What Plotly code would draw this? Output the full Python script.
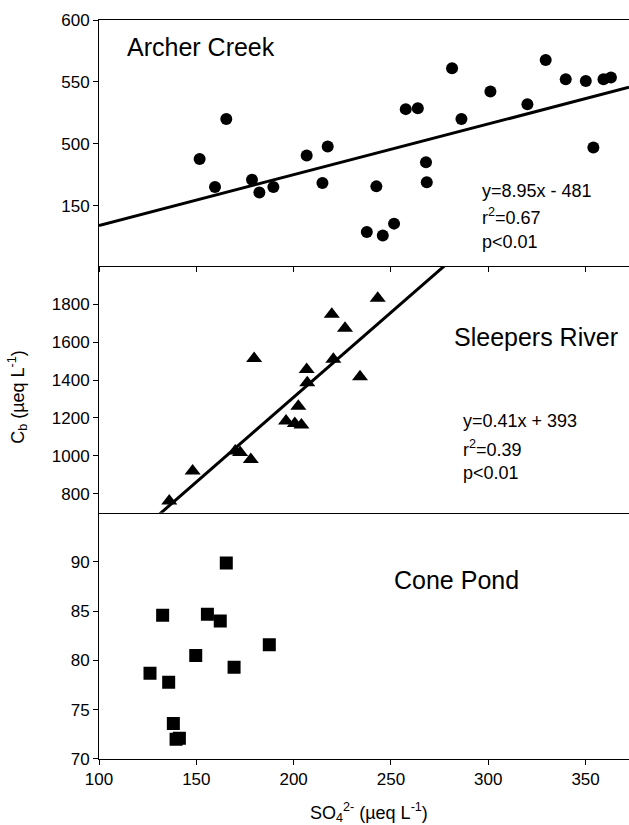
import plotly.graph_objects as go
from plotly.subplots import make_subplots

# ---------------- data ----------------
archer_x = [151.7, 159.6, 165.4, 178.6, 182.4, 189.6, 206.7, 214.8, 217.5, 237.6,
            242.5, 245.8, 251.6, 257.6, 263.8, 268.0, 268.4, 281.4, 286.2, 301.1,
            320.1, 329.5, 339.8, 350.1, 354.0, 359.2, 363.0]
archer_y = [487.7, 465.0, 520.0, 471.0, 460.7, 465.0, 490.6, 468.3, 497.8, 428.8,
            465.6, 426.0, 435.5, 528.0, 528.8, 485.0, 469.0, 561.0, 520.0, 542.2,
            532.0, 567.7, 552.2, 550.8, 497.0, 552.2, 553.5]
archer_slope, archer_intercept = 0.41, 393

sleepers_x = [136.1, 148.1, 170.0, 172.5, 178.0, 179.7, 196.1, 200.6, 202.4, 204.0,
              206.7, 207.0, 219.6, 220.4, 226.4, 234.1, 243.2]
sleepers_y = [761, 920, 1025, 1018, 980, 1514, 1184, 1170, 1262, 1163,
              1456, 1385, 1747, 1509, 1673, 1417, 1832]
sleepers_slope, sleepers_intercept = 8.95, -481

cone_x = [165.4, 132.7, 155.7, 162.3, 187.5, 149.7, 169.4, 126.2, 135.8, 138.2, 139.6, 141.3]
cone_y = [89.9, 84.6, 84.7, 84.0, 81.6, 80.5, 79.3, 78.7, 77.8, 73.6, 72.0, 72.1]

fit_x = [100, 372.3]

top_tickvals = [450, 500, 550, 600]
top_ticktext = ["150", "500", "550", "600"]
mid_tickvals = [800, 1000, 1200, 1400, 1600, 1800]
bot_tickvals = [70, 75, 80, 85, 90]
x_tickvals = [100, 150, 200, 250, 300, 350]

# ---------------- figure ----------------
FONT = "Liberation Sans, Arial, sans-serif"
fig = make_subplots(rows=3, cols=1, shared_xaxes=True, vertical_spacing=0)

fig.add_trace(go.Scatter(x=archer_x, y=archer_y, mode="markers",
                         marker=dict(symbol="circle", size=12, color="black")), row=1, col=1)
fig.add_trace(go.Scatter(x=fit_x, y=[archer_slope * v + archer_intercept for v in fit_x],
                         mode="lines", line=dict(color="black", width=3)), row=1, col=1)

fig.add_trace(go.Scatter(x=sleepers_x, y=sleepers_y, mode="markers",
                         marker=dict(symbol="triangle-up", size=14, color="black")), row=2, col=1)
fig.add_trace(go.Scatter(x=fit_x, y=[sleepers_slope * v + sleepers_intercept for v in fit_x],
                         mode="lines", line=dict(color="black", width=3)), row=2, col=1)

fig.add_trace(go.Scatter(x=cone_x, y=cone_y, mode="markers",
                         marker=dict(symbol="square", size=13, color="black")), row=3, col=1)

axis_common = dict(showgrid=False, zeroline=False, showline=True, linecolor="black",
                   linewidth=1, ticks="outside", ticklen=5, tickcolor="black",
                   tickfont=dict(size=17, family=FONT, color="black"))

fig.update_xaxes(range=[100, 372.3], tickvals=x_tickvals, **axis_common)
fig.update_xaxes(mirror=True, showticklabels=False, row=1, col=1)
fig.update_xaxes(ticks="", showticklabels=False, row=2, col=1)
fig.update_xaxes(showticklabels=True, row=3, col=1)

fig.update_yaxes(**axis_common)
fig.update_yaxes(range=[401, 600], tickvals=top_tickvals, ticktext=top_ticktext, row=1, col=1)
fig.update_yaxes(range=[700, 2000], tickvals=mid_tickvals, row=2, col=1)
fig.update_yaxes(range=[70, 95], tickvals=bot_tickvals, row=3, col=1)

ann = []
def txt(text, x, y, xref, yref, size, xanchor="left"):
    ann.append(dict(text=text, x=x, y=y, xref=xref, yref=yref, showarrow=False,
                    xanchor=xanchor, yanchor="middle",
                    font=dict(size=size, family=FONT, color="black")))

txt("Archer Creek", 113.4, 578.5, "x", "y", 25)
txt("Sleepers River", 281.2, 1629, "x2", "y2", 25)
txt("Cone Pond", 250.4, 88.2, "x3", "y3", 25)

txt("y=8.95x - 481", 295.8, 462, "x", "y", 18)
txt("r<sup>2</sup>=0.67", 295.8, 441, "x", "y", 18)
txt("p<0.01", 295.8, 421, "x", "y", 18)

txt("y=0.41x + 393", 286.0, 1183, "x2", "y2", 18)
txt("r<sup>2</sup>=0.39", 286.0, 1040, "x2", "y2", 18)
txt("p<0.01", 286.0, 911, "x2", "y2", 18)

fig.update_layout(annotations=ann)
fig.add_annotation(text="C<sub>b</sub> (µeq L<sup>-1</sup>)", textangle=-90,
                   x=-0.153, y=0.49, xref="paper", yref="paper", showarrow=False,
                   xanchor="center", yanchor="middle",
                   font=dict(size=18, family=FONT, color="black"))
fig.add_annotation(text="SO<sub>4</sub><sup>2-</sup> (µeq L<sup>-1</sup>)",
                   x=0.51, y=-0.073, xref="paper", yref="paper", showarrow=False,
                   xanchor="center", yanchor="middle",
                   font=dict(size=18, family=FONT, color="black"))

fig.update_layout(width=629, height=825, showlegend=False,
                  margin=dict(l=99, r=0, t=20, b=66),
                  plot_bgcolor="white", paper_bgcolor="white",
                  font=dict(family=FONT, color="black"))

fig.write_html("out.html", config={"displayModeBar": False},
               post_script="document.body.style.margin='0';document.body.style.overflow='hidden';")
